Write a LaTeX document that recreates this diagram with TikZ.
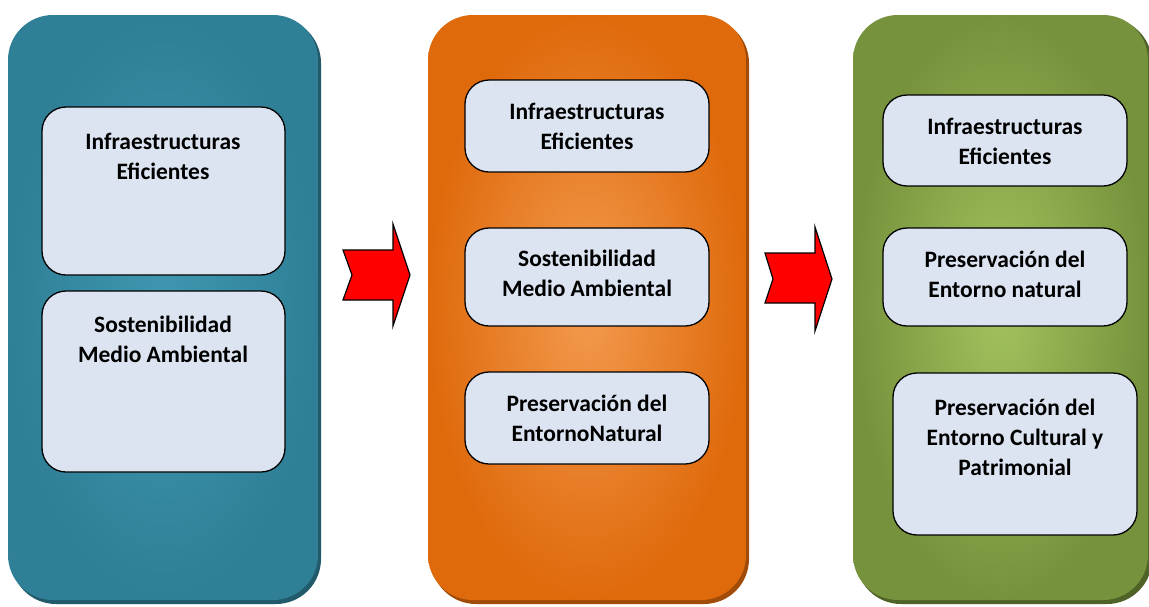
\documentclass[tikz,border=0pt]{standalone}
\usepackage{fontspec}
\setmainfont{Carlito}
\usetikzlibrary{positioning}
\definecolor{bluedge}{HTML}{2F7F96}
\definecolor{bluemid}{HTML}{3E98B0}
\definecolor{blueshadow}{HTML}{215A6B}
\definecolor{oredge}{HTML}{DF6A0C}
\definecolor{ormid}{HTML}{F39A4E}
\definecolor{orshadow}{HTML}{A04C08}
\definecolor{gredge}{HTML}{76923C}
\definecolor{grmid}{HTML}{A3C25E}
\definecolor{grshadow}{HTML}{4F6228}
\definecolor{boxfill}{HTML}{DBE4F0}
\tikzset{
  panel/.style={rounded corners=45pt},
  innerbox/.style={draw=black, line width=1.3pt, fill=boxfill, rounded corners=24pt},
  boxtext/.style={font=\bfseries\fontsize{23.5}{30}\selectfont, align=center, text=black, inner sep=0pt},
  redarrow/.style={fill=red, draw=black, line width=1.2pt, line join=miter},
}
\begin{document}
\begin{tikzpicture}[x=1pt,y=-1pt]
\useasboundingbox (0,0) rectangle (1149,606);
% ---- panels with shadows
\fill[blueshadow, panel] (11,18) rectangle (321,604);
\shade[panel, inner color=bluemid, outer color=bluedge] (8,15) rectangle (318,600);
\fill[orshadow, panel] (431,18) rectangle (749,604);
\shade[panel, inner color=ormid, outer color=oredge] (428,15) rectangle (746,600);
\fill[grshadow, panel] (856,18) rectangle (1152,604);
\shade[panel, inner color=grmid, outer color=gredge] (853,15) rectangle (1148,600);
% ---- blue panel boxes
\draw[innerbox] (42,107) rectangle (285,275);
\draw[innerbox] (42,291) rectangle (285,472);
\node[boxtext] (b1) at (163,156) {Infraestructuras\\Eficientes};
\node[boxtext] (b2) at (163,339) {Sostenibilidad\\Medio Ambiental};
% ---- orange panel boxes
\draw[innerbox] (465,80) rectangle (709,172);
\draw[innerbox] (465,228) rectangle (709,326);
\draw[innerbox] (465,372) rectangle (709,464);
\node[boxtext] (o1) at (587,126) {Infraestructuras\\Eficientes};
\node[boxtext] (o2) at (587,273) {Sostenibilidad\\Medio Ambiental};
\node[boxtext] (o3) at (587,418) {Preservación del\\EntornoNatural};
% ---- green panel boxes
\draw[innerbox] (883,95) rectangle (1127,186);
\draw[innerbox] (883,228) rectangle (1127,326);
\draw[innerbox] (893,373) rectangle (1137,535);
\node[boxtext] (g1) at (1005,141) {Infraestructuras\\Eficientes};
\node[boxtext] (g2) at (1005,274) {Preservación del\\Entorno natural};
\node[boxtext] (g3) at (1015,437) {Preservación del\\Entorno Cultural y\\Patrimonial};
% ---- arrows
\draw[redarrow] (343,250) -- (393,250) -- (393,224) -- (410,275) -- (393,326) -- (393,300) -- (343,300) -- (352,275) -- cycle;
\draw[redarrow] (765,253) -- (815,253) -- (815,227) -- (832,279) -- (815,331) -- (815,303) -- (765,303) -- (773,279) -- cycle;
\end{tikzpicture}
\end{document}
